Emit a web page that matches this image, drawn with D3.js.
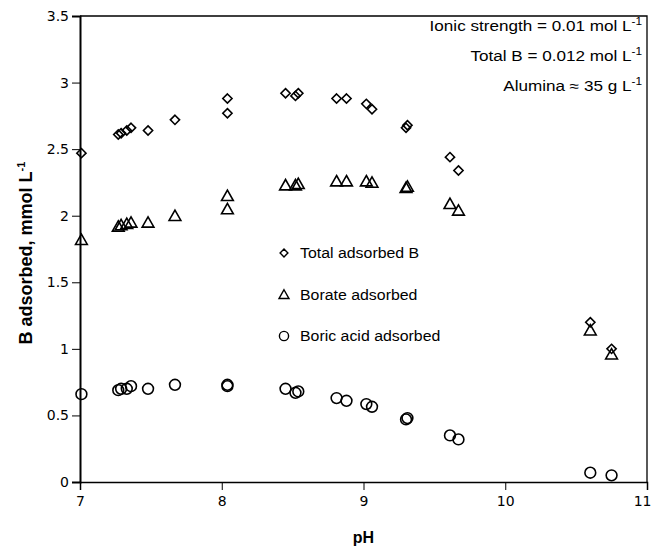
<!DOCTYPE html>
<html>
<head>
<meta charset="utf-8">
<script src="https://cdn.jsdelivr.net/npm/d3@7"></script>
<style>
  body { margin: 0; background: #fff; }
  svg { display: block; font-family: "DejaVu Sans", sans-serif; }
</style>
</head>
<body>
<svg id="chart" width="652" height="549"></svg>
<script>
// pH of each sample (same samples for the three series)
const pH = [7.01, 7.27, 7.29, 7.33, 7.36, 7.48, 7.67, 8.04, 8.04, 8.45, 8.52, 8.54,
  8.81, 8.88, 9.02, 9.06, 9.30, 9.31, 9.61, 9.67, 10.60, 10.75];
const totalB = [2.47, 2.61, 2.62, 2.64, 2.66, 2.64, 2.72, 2.88, 2.77, 2.92, 2.90, 2.92,
  2.88, 2.88, 2.84, 2.80, 2.66, 2.68, 2.44, 2.34, 1.20, 1.00];
const borate = [1.82, 1.92, 1.93, 1.94, 1.95, 1.95, 2.00, 2.15, 2.05, 2.23, 2.23, 2.24,
  2.26, 2.26, 2.26, 2.25, 2.21, 2.22, 2.09, 2.04, 1.14, 0.96];
const boricAcid = [0.66, 0.69, 0.70, 0.70, 0.72, 0.70, 0.73, 0.73, 0.72, 0.70, 0.67, 0.68,
  0.63, 0.61, 0.585, 0.565, 0.47, 0.48, 0.35, 0.32, 0.07, 0.05];

const xTicks = [7, 8, 9, 10, 11];
const yTicks = [0, 0.5, 1, 1.5, 2, 2.5, 3, 3.5];
const legendLabels = ["Total adsorbed B", "Borate adsorbed", "Boric acid adsorbed"];
const notes = [
  ["Ionic strength = 0.01 mol L", "-1"],
  ["Total B = 0.012 mol L", "-1"],
  ["Alumina \u2248 35 g L", "-1"]
];

const svg = d3.select("#chart");
const margin = { top: 16, right: 5, bottom: 67, left: 80 };
const width = 652, height = 549;

const x = d3.scaleLinear().domain([7, 11]).range([margin.left, width - margin.right]);
const y = d3.scaleLinear().domain([0, 3.5]).range([height - margin.bottom, margin.top]);

// marker shapes
function diamond(s) { return `M0,${-s}L${s},0L0,${s}L${-s},0Z`; }
function triangle(s) { return `M0,${-s}L${s * 1.05},${s * 0.85}L${-s * 1.05},${s * 0.85}Z`; }
function circle(s) { return `M${s},0A${s},${s} 0 1,1 ${-s},0A${s},${s} 0 1,1 ${s},0Z`; }

// frame (top and right)
svg.append("path")
  .attr("d", `M${x(7)},${y(3.5)}H${x(11)}V${y(0)}`)
  .attr("fill", "none").attr("stroke", "#000").attr("stroke-width", 1.3);

// x axis
const xAxis = svg.append("g").attr("transform", `translate(0,${y(0)})`);
xAxis.call(d3.axisBottom(x).tickValues(d3.range(7, 11.001, 0.2)).tickSize(4).tickFormat(""));
xAxis.call(d3.axisBottom(x).tickValues(xTicks).tickSize(8).tickPadding(6).tickFormat(d3.format("d")));
xAxis.selectAll(".domain").attr("stroke-width", 1.5);
xAxis.selectAll("text").attr("font-size", 14).attr("fill", "#000").attr("font-family", "DejaVu Sans");
// last label sits at the right edge of the picture
xAxis.selectAll("text").filter(d => d === 11).attr("text-anchor", "end").attr("dx", 4);

// y axis
const yAxis = svg.append("g").attr("transform", `translate(${x(7)},0)`);
yAxis.call(d3.axisLeft(y).tickValues(d3.range(0, 3.501, 0.1)).tickSize(3).tickFormat(""));
yAxis.call(d3.axisLeft(y).tickValues(yTicks).tickSize(8).tickPadding(3).tickFormat(d => d));
yAxis.selectAll(".domain").attr("stroke-width", 2);
yAxis.selectAll("text").attr("font-size", 14).attr("fill", "#000").attr("font-family", "DejaVu Sans");

// axis titles
svg.append("text")
  .attr("x", (x(7) + x(11)) / 2).attr("y", 543)
  .attr("text-anchor", "middle").attr("font-weight", "bold").attr("font-size", 16)
  .attr("font-family", "Liberation Sans, Arial, sans-serif")
  .text("pH");

const yTitle = svg.append("text")
  .attr("transform", `translate(32,${(y(0) + y(3.5)) / 2 + 4}) rotate(-90)`)
  .attr("text-anchor", "middle").attr("font-weight", "bold").attr("font-size", 18)
  .attr("font-family", "Liberation Sans, Arial, sans-serif");
yTitle.append("tspan").text("B adsorbed, mmol L");
yTitle.append("tspan").attr("dy", -7).attr("font-size", 11).text("-1");

// data points
const series = [
  { values: totalB, shape: diamond, size: 4.6 },
  { values: borate, shape: triangle, size: 5.6 },
  { values: boricAcid, shape: circle, size: 5.4 }
];
series.forEach(s => {
  svg.append("g").selectAll("path")
    .data(s.values)
    .join("path")
    .attr("transform", (d, i) => `translate(${x(pH[i])},${y(d)})`)
    .attr("d", s.shape(s.size))
    .attr("fill", "none").attr("stroke", "#000").attr("stroke-width", 1.6);
});

// legend
const legend = svg.append("g");
series.forEach((s, i) => {
  const ly = 253 + i * 41.5;
  legend.append("path")
    .attr("transform", `translate(284,${ly})`)
    .attr("d", s.shape(s.size * 0.85))
    .attr("fill", "none").attr("stroke", "#000").attr("stroke-width", 1.4);
  legend.append("text")
    .attr("transform", `translate(300,${ly + 5}) scale(1.06,1)`)
    .attr("font-size", 15).attr("font-family", "Liberation Sans, Arial, sans-serif")
    .text(legendLabels[i]);
});

// notes in upper right corner
notes.forEach((n, i) => {
  const t = svg.append("text")
    .attr("transform", `translate(642,${31 + i * 30}) scale(1.18,1)`)
    .attr("text-anchor", "end").attr("font-size", 14.5)
    .attr("font-family", "Liberation Sans, Arial, sans-serif");
  t.append("tspan").text(n[0]);
  t.append("tspan").attr("dy", -6).attr("font-size", 10).text(n[1]);
});
</script>
</body>
</html>
